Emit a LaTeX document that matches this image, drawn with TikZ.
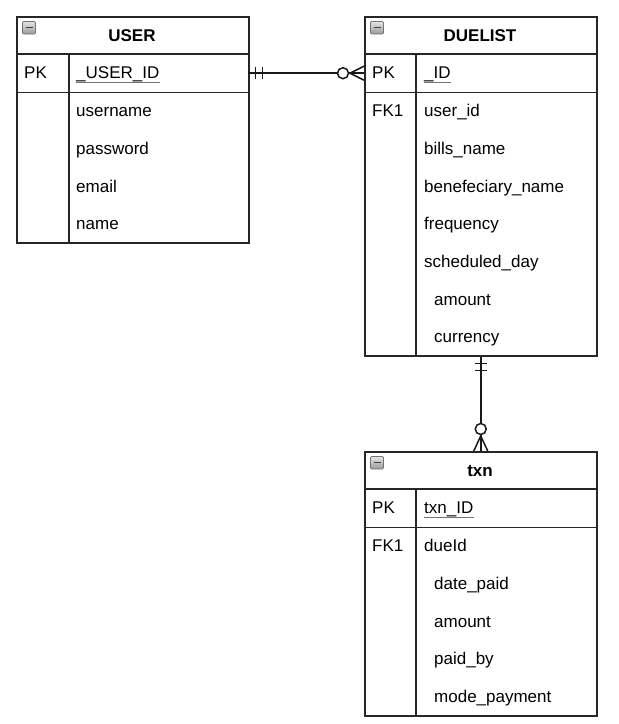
\documentclass[tikz,border=0pt]{standalone}
\usepackage{fontspec}
\setmainfont{Liberation Sans}
\begin{document}
\begin{tikzpicture}[x=1pt,y=-1pt,
  frame/.style={draw=black!85,line width=1.5pt},
  tablebox/.style={frame,rectangle,inner sep=0pt,anchor=north west,minimum width=232pt},
  rowbox/.style={rectangle,inner sep=0pt,anchor=north west,minimum width=232pt,minimum height=38pt},
  title/.style={font=\fontsize{17}{20}\selectfont\bfseries,inner sep=0pt},
  field/.style={font=\fontsize{17}{20}\selectfont,inner sep=0pt,anchor=mid west},
  ul/.style={draw=black!55,line width=1pt},
  rel/.style={draw=black!90,line width=1.5pt},
  icon/.style={draw=black!55,line width=0.7pt,rounded corners=1.2pt,top color=black!10,bottom color=black!40},
  iconbar/.style={line width=1.5pt,black!75}
]
\useasboundingbox (0,0) rectangle (619,724);
\fill[white] (0,0) rectangle (619,724);

% ---------- USER ----------
\node[tablebox,minimum height=226pt] (user) at (16,16) {};
\node[rowbox] (userhead) at (16,16) {};
\node[rowbox] (userpk) at (16,54) {};
\draw[frame] (user.west |- userpk.north) -- (user.east |- userpk.north);
\draw[frame] (user.west |- userpk.south) -- (user.east |- userpk.south);
\draw[frame] (69,54) -- (69,242);
\node[title] (usertitle) at (132,36) {USER};
\draw[icon] (22.5,21.5) rectangle (35.5,34);
\draw[iconbar] (25.5,27.5) -- (32.5,27.5);
\node[field] (userpklbl) at (24,76) {PK};
\node[field] (useruid) at (76,76) {\_USER\_ID};
\draw[ul] ([yshift=-3.5pt]useruid.base west) -- ([yshift=-3.5pt]useruid.base east);
\node[field] (uf1) at (76,114) {username};
\node[field] (uf2) at (76,152) {password};
\node[field] (uf3) at (76,190) {email};
\node[field] (uf4) at (76,227) {name};

% ---------- DUELIST ----------
\node[tablebox,minimum height=339pt] (due) at (364,16) {};
\node[rowbox] (duehead) at (364,16) {};
\node[rowbox] (duepk) at (364,54) {};
\draw[frame] (due.west |- duepk.north) -- (due.east |- duepk.north);
\draw[frame] (due.west |- duepk.south) -- (due.east |- duepk.south);
\draw[frame] (416,54) -- (416,355);
\node[title] (duetitle) at (480,36) {DUELIST};
\draw[icon] (370.5,21.5) rectangle (383.5,34);
\draw[iconbar] (373.5,27.5) -- (380.5,27.5);
\node[field] (duepklbl) at (372,76) {PK};
\node[field] (dueid) at (424,76) {\_ID};
\draw[ul] ([yshift=-3.5pt]dueid.base west) -- ([yshift=-3.5pt]dueid.base east);
\node[field] (duefklbl) at (372,114) {FK1};
\node[field] (df1) at (424,114) {user\_id};
\node[field] (df2) at (424,152) {bills\_name};
\node[field] (df3) at (424,190) {benefeciary\_name};
\node[field] (df4) at (424,227) {frequency};
\node[field] (df5) at (424,265) {scheduled\_day};
\node[field] (df6) at (434,303) {amount};
\node[field] (df7) at (434,340) {currency};

% ---------- txn ----------
\node[tablebox,minimum height=264pt] (txn) at (364,451) {};
\node[rowbox] (txnhead) at (364,451) {};
\node[rowbox] (txnpk) at (364,489) {};
\draw[frame] (txn.west |- txnpk.north) -- (txn.east |- txnpk.north);
\draw[frame] (txn.west |- txnpk.south) -- (txn.east |- txnpk.south);
\draw[frame] (416,489) -- (416,715);
\node[title] (txntitle) at (480,471) {txn};
\draw[icon] (370.5,456.5) rectangle (383.5,469);
\draw[iconbar] (373.5,462.5) -- (380.5,462.5);
\node[field] (txnpklbl) at (372,511) {PK};
\node[field] (txnid) at (424,511) {txn\_ID};
\draw[ul] ([yshift=-3.5pt]txnid.base west) -- ([yshift=-3.5pt]txnid.base east);
\node[field] (txnfklbl) at (372,549) {FK1};
\node[field] (tf1) at (424,549) {dueId};
\node[field] (tf2) at (434,587) {date\_paid};
\node[field] (tf3) at (434,625) {amount};
\node[field] (tf4) at (434,662) {paid\_by};
\node[field] (tf5) at (434,700) {mode\_payment};

% ---------- USER ||--o< DUELIST ----------
\draw[rel] (userpk.east) -- ([xshift=-26.5pt]duepk.west);
\draw[rel] ([xshift=7pt,yshift=-6pt]userpk.east) -- ([xshift=7pt,yshift=6pt]userpk.east);
\draw[rel] ([xshift=14pt,yshift=-6pt]userpk.east) -- ([xshift=14pt,yshift=6pt]userpk.east);
\draw[rel] ([xshift=-21pt]duepk.west) circle (5.5pt);
\draw[rel] ([xshift=-15.5pt]duepk.west) -- (duepk.west);
\draw[rel] ([xshift=-14pt]duepk.west) -- ([yshift=-7pt]duepk.west);
\draw[rel] ([xshift=-14pt]duepk.west) -- ([yshift=7pt]duepk.west);

% ---------- DUELIST ||--o< txn ----------
\draw[rel] (due.south) -- ([yshift=27.5pt]txn.north);
\draw[rel] ([xshift=-6pt,yshift=-7pt]due.south) -- ([xshift=6pt,yshift=-7pt]due.south);
\draw[rel] ([xshift=-6pt,yshift=-14pt]due.south) -- ([xshift=6pt,yshift=-14pt]due.south);
\draw[rel] ([yshift=22pt]txn.north) circle (5.5pt);
\draw[rel] ([yshift=16.5pt]txn.north) -- (txn.north);
\draw[rel] ([yshift=15pt]txn.north) -- ([xshift=-7pt]txn.north);
\draw[rel] ([yshift=15pt]txn.north) -- ([xshift=7pt]txn.north);
\end{tikzpicture}
\end{document}
